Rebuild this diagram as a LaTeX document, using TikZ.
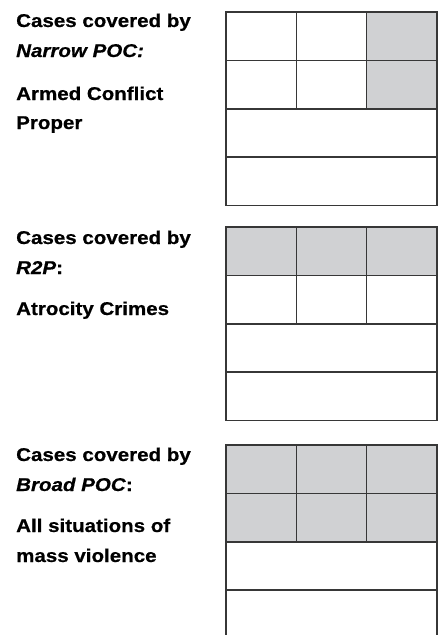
\documentclass[tikz,border=0pt]{standalone}
\usepackage{fontspec}
\setmainfont{Liberation Sans}[FakeStretch=1.11, FakeBold=0.6]
\usetikzlibrary{positioning}
\definecolor{gridline}{RGB}{55,55,55}
\definecolor{coveredgray}{RGB}{208,209,211}

\tikzset{
  cell/.style={draw=gridline, line width=1.5pt, minimum width=70.33pt,
    minimum height=48.4pt, inner sep=0pt, outer sep=0pt},
  widecell/.style={cell, minimum width=211pt},
  caption/.style={anchor=base west, inner sep=0pt,
    font=\fontsize{18.5}{22}\selectfont\bfseries},
}

\begin{document}
\begin{tikzpicture}[x=1pt, y=-1pt]
\useasboundingbox (0,0) rectangle (441,635);
% three grids: top two rows split into three cells, shaded where covered
\foreach \g/\top/\rowA/\rowB in {narrow/12/{white,white,coveredgray}/{white,white,coveredgray},
    rtwop/227/{coveredgray,coveredgray,coveredgray}/{white,white,white},
    broad/445/{coveredgray,coveredgray,coveredgray}/{coveredgray,coveredgray,coveredgray}}{
  \foreach \fc [count=\c] in \rowA
    \node[cell, fill=\fc] (\g-1-\c) at ({226+(\c-0.5)*70.33}, {\top+0.5*48.4}) {};
  \foreach \fc [count=\c] in \rowB
    \node[cell, fill=\fc] (\g-2-\c) at ({226+(\c-0.5)*70.33}, {\top+1.5*48.4}) {};
  \node[widecell] (\g-3) at (331.5, {\top+2.5*48.4}) {};
  \node[widecell] (\g-4) at (331.5, {\top+3.5*48.4}) {};
}
% captions
\node[caption] (narrowhead) at (16,27) {Cases covered by};
\node[caption] (narrowname) at (16,57) {\textit{Narrow POC:}};
\node[caption] (narrowdesc) at (16,100) {Armed Conflict};
\node[caption] (narrowdescb) at (16,129) {Proper};
\node[caption] (rtwophead) at (16,244) {Cases covered by};
\node[caption] (rtwopname) at (16,274) {\textit{R2P}:};
\node[caption] (rtwopdesc) at (16,315) {Atrocity Crimes};
\node[caption] (broadhead) at (16,461) {Cases covered by};
\node[caption] (broadname) at (16,491) {\textit{Broad POC}:};
\node[caption] (broaddesc) at (16,532) {All situations of};
\node[caption] (broaddescb) at (16,562) {mass violence};
\end{tikzpicture}
\end{document}
